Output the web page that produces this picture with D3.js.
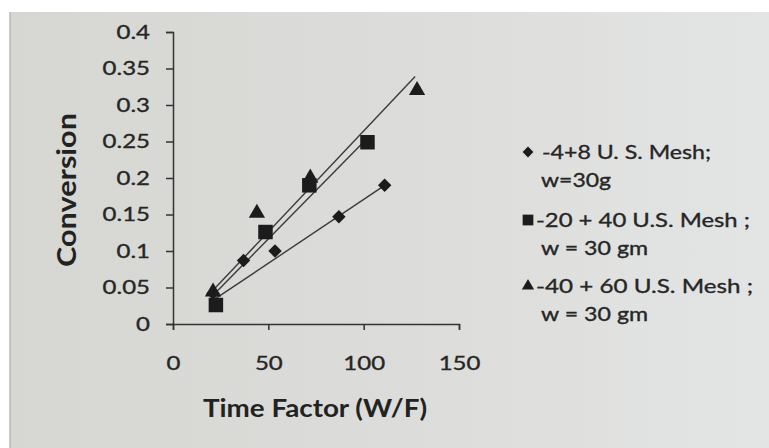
<!DOCTYPE html>
<html>
<head>
<meta charset="utf-8">
<script src="https://cdn.jsdelivr.net/npm/d3@7"></script>
<style>
  html, body { margin: 0; padding: 0; background: #fff; }
  svg { display: block; font-family: Lato, "Open Sans", sans-serif; }
</style>
</head>
<body>
<div id="chart"></div>
<script>
// values
const diamondX = [21, 37, 53.5, 87, 111];
const diamondY = [0.042, 0.087, 0.1, 0.147, 0.19];
const squareX = [22.5, 48.5, 71.5, 102];
const squareY = [0.026, 0.126, 0.19, 0.249];
const triangleX = [21, 44, 72, 128];
const triangleY = [0.044, 0.152, 0.2, 0.32];

// trendline end points [x0, y0, x1, y1]
const diamondTrend = [22.5, 0.035, 111, 0.19];
const squareTrend = [20.5, 0.038, 101, 0.252];
const triangleTrend = [19.5, 0.042, 127, 0.339];

const xTicks = [0, 50, 100, 150];
const yTicks = [0, 0.05, 0.1, 0.15, 0.2, 0.25, 0.3, 0.35, 0.4];

const legendLines = [
  ["-4+8 U. S. Mesh;", "w=30g"],
  ["-20 + 40 U.S. Mesh ;", "w = 30 gm"],
  ["-40 + 60 U.S. Mesh ;", "w = 30 gm"],
];

const width = 769;
const height = 448;
const ink = "#1c1c1c";
const textInk = "#262626";
const stretch = 1.2; // the photographed type runs wide

// legend text widths as they appear in the photo
const legendWidths = [[169, 70], [214, 107], [217, 107]];

const svg = d3.select("#chart")
  .append("svg")
  .attr("width", width)
  .attr("height", height);

// photographed paper background
const grad = svg.append("defs")
  .append("linearGradient")
  .attr("id", "paper")
  .attr("x1", "0").attr("x2", "1").attr("y1", "0").attr("y2", "0");
grad.append("stop").attr("offset", "0").attr("stop-color", "#d6d7d3");
grad.append("stop").attr("offset", "0.6").attr("stop-color", "#dddedb");
grad.append("stop").attr("offset", "1").attr("stop-color", "#e3e5e5");

svg.append("rect")
  .attr("x", 10).attr("y", 12)
  .attr("width", width - 10).attr("height", height - 12)
  .attr("fill", "url(#paper)");
svg.append("line")
  .attr("x1", 10).attr("x2", 10).attr("y1", 12).attr("y2", height)
  .attr("stroke", "#b9bab8").attr("stroke-width", 1.5);

const x = d3.scaleLinear().domain([0, 150]).range([173, 459]);
const y = d3.scaleLinear().domain([0, 0.4]).range([324, 32]);

function styleTicks(sel) {
  sel.attr("fill", textInk)
    .attr("stroke", textInk)
    .attr("stroke-width", 0.35)
    .style("font-size", "20px")
    .style("font-family", "Lato, sans-serif");
}

// axes
const yAxis = svg.append("g")
  .attr("transform", `translate(${x(0)},0)`)
  .call(d3.axisLeft(y).tickValues(yTicks).tickSize(7)
    .tickFormat((d) => (d === 0 ? "0" : String(+d.toFixed(2)))));
yAxis.select(".domain").attr("stroke", "#333").attr("stroke-width", 1.5);
yAxis.selectAll("line").attr("stroke", "#333").attr("stroke-width", 1.5);
yAxis.selectAll("text")
  .call(styleTicks)
  .attr("x", -23 / stretch)
  .attr("transform", `scale(${stretch},1)`);

const xAxis = svg.append("g")
  .attr("transform", `translate(0,${y(0)})`)
  .call(d3.axisBottom(x).tickValues(xTicks).tickSize(6).tickPadding(26));
xAxis.select(".domain").attr("stroke", "#333").attr("stroke-width", 1.5);
xAxis.selectAll("line").attr("stroke", "#333").attr("stroke-width", 1.5);
xAxis.selectAll("text")
  .call(styleTicks)
  .attr("transform", `scale(${stretch},1)`);

// trendlines
const trends = [diamondTrend, squareTrend, triangleTrend];
svg.append("g")
  .selectAll("line")
  .data(trends)
  .join("line")
  .attr("x1", (d) => x(d[0]))
  .attr("y1", (d) => y(d[1]))
  .attr("x2", (d) => x(d[2]))
  .attr("y2", (d) => y(d[3]))
  .attr("stroke", "#3a3a3a")
  .attr("stroke-width", 1.4);

// markers
const diamond = d3.symbol().type(d3.symbolDiamond2).size(115);
const square = d3.symbol().type(d3.symbolSquare).size(210);
const triangle = d3.symbol().type(d3.symbolTriangle).size(115);

svg.append("g")
  .selectAll("path")
  .data(diamondX.map((v, i) => [v, diamondY[i]]))
  .join("path")
  .attr("transform", (d) => `translate(${x(d[0])},${y(d[1])})`)
  .attr("d", diamond)
  .attr("fill", ink);

svg.append("g")
  .selectAll("path")
  .data(squareX.map((v, i) => [v, squareY[i]]))
  .join("path")
  .attr("transform", (d) => `translate(${x(d[0])},${y(d[1])})`)
  .attr("d", square)
  .attr("fill", ink);

svg.append("g")
  .selectAll("path")
  .data(triangleX.map((v, i) => [v, triangleY[i]]))
  .join("path")
  .attr("transform", (d) => `translate(${x(d[0])},${y(d[1])})`)
  .attr("d", triangle)
  .attr("fill", ink);

// axis titles
svg.append("text")
  .attr("x", 203)
  .attr("y", 417)
  .attr("textLength", 224)
  .attr("lengthAdjust", "spacingAndGlyphs")
  .attr("fill", "#222")
  .style("font-size", "25px")
  .style("font-weight", "700")
  .text("Time Factor (W/F)");

svg.append("text")
  .attr("transform", "translate(76,267) rotate(-90)")
  .attr("textLength", 154)
  .attr("lengthAdjust", "spacingAndGlyphs")
  .attr("fill", "#222")
  .style("font-size", "26px")
  .style("font-weight", "700")
  .text("Conversion");

// legend
const legendSymbols = [
  d3.symbol().type(d3.symbolDiamond2).size(75),
  d3.symbol().type(d3.symbolSquare).size(115),
  d3.symbol().type(d3.symbolTriangle).size(65),
];
const legendTop = [152, 220, 286];
const legendTextX = [542, 536, 536];

const legend = svg.append("g");
legendLines.forEach((lines, i) => {
  legend.append("path")
    .attr("transform", `translate(528,${legendTop[i]})`)
    .attr("d", legendSymbols[i])
    .attr("fill", ink);
  legend.append("text")
    .attr("x", legendTextX[i])
    .attr("y", legendTop[i] + 7)
    .attr("textLength", legendWidths[i][0])
    .attr("lengthAdjust", "spacingAndGlyphs")
    .attr("fill", textInk)
    .attr("stroke", textInk)
    .attr("stroke-width", 0.35)
    .style("font-size", "20px")
    .text(lines[0]);
  legend.append("text")
    .attr("x", 541)
    .attr("y", legendTop[i] + 35)
    .attr("textLength", legendWidths[i][1])
    .attr("lengthAdjust", "spacingAndGlyphs")
    .attr("fill", textInk)
    .attr("stroke", textInk)
    .attr("stroke-width", 0.35)
    .style("font-size", "20px")
    .text(lines[1]);
});
</script>
</body>
</html>
